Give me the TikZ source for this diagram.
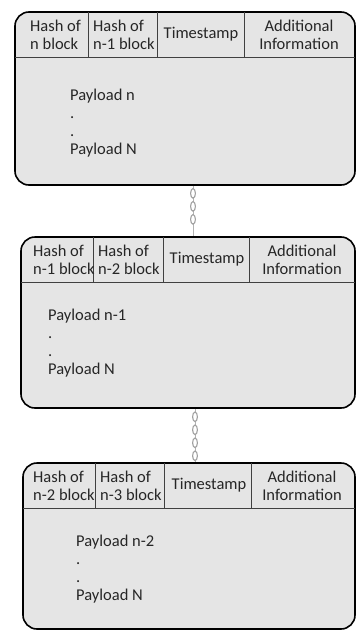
\documentclass[tikz,border=0pt]{standalone}
\usepackage{fontspec}
\setmainfont{Carlito}
\usetikzlibrary{decorations.markings}

\begin{document}
\begin{tikzpicture}[x=1pt,y=-1pt,font=\fontsize{16.5}{18}\selectfont]
\tikzstyle{block}=[draw=black,line width=1.6pt,fill=black!10,rounded corners=14pt,inner sep=0pt]
\tikzstyle{sep}=[draw=black!75,line width=1pt]
\tikzstyle{cell}=[inner sep=0pt,align=left,anchor=west,text=black!85]
\tikzstyle{field}=[inner sep=0pt,align=center,text=black!85]
\tikzstyle{payload}=[inner sep=0pt,align=left,anchor=north west,text=black!85]
\tikzstyle{chain}=[draw=gray!60,line width=0.8pt,postaction={decorate},decoration={markings,mark=between positions 0.15 and 0.92 step 13pt with {\draw[gray!75,line width=1.1pt,fill=white] (0,0) ellipse (4.8pt and 2.4pt);}}]
\useasboundingbox (0,0) rectangle (357,632);

% block n
\node[block,minimum width=340pt,minimum height=173pt](b1) at (185,98.5) {};
\draw[sep] (15,57) -- (355,57);
\draw[sep] (88,12) -- (88,57);
\draw[sep] (157,12) -- (157,57);
\draw[sep] (244,12) -- (244,57);
\node[cell](b1h1) at (30,35) {Hash of\\n block};
\node[cell](b1h2) at (93,35) {Hash of\\n-1 block};
\node[field](b1ts) at (201,34) {Timestamp};
\node[field](b1ai) at (299,35) {Additional\\Information};
\node[payload](b1p) at (70,89) {Payload n\\.\\.\\Payload N};

% block n-1
\node[block,minimum width=334pt,minimum height=171pt](b2) at (188,322.5) {};
\draw[sep] (21,282) -- (355,282);
\draw[sep] (93,237) -- (93,282);
\draw[sep] (163,237) -- (163,282);
\draw[sep] (249,237) -- (249,282);
\node[cell](b2h1) at (33,260) {Hash of\\n-1 block};
\node[cell](b2h2) at (98,260) {Hash of\\n-2 block};
\node[field](b2ts) at (207,259) {Timestamp};
\node[field](b2ai) at (302,260) {Additional\\Information};
\node[payload](b2p) at (48,309) {Payload n-1\\.\\.\\Payload N};

% block n-2
\node[block,minimum width=332pt,minimum height=166pt](b3) at (189,546) {};
\draw[sep] (23,508) -- (355,508);
\draw[sep] (95,463) -- (95,508);
\draw[sep] (164,463) -- (164,508);
\draw[sep] (251,463) -- (251,508);
\node[cell](b3h1) at (33,485.5) {Hash of\\n-2 block};
\node[cell](b3h2) at (100,485.5) {Hash of\\n-3 block};
\node[field](b3ts) at (209,485) {Timestamp};
\node[field](b3ai) at (302,486) {Additional\\Information};
\node[payload](b3p) at (76,535) {Payload n-2\\.\\.\\Payload N};

\draw[chain] ([xshift=8pt]b1.south) -- ([xshift=5pt]b2.north);
\draw[chain] ([xshift=7pt]b2.south) -- ([xshift=6pt]b3.north);
\end{tikzpicture}
\end{document}
